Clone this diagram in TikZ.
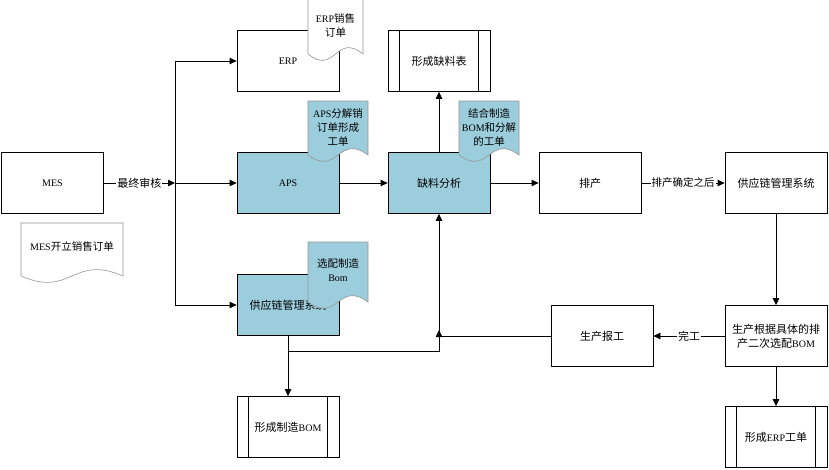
\documentclass[tikz,border=0pt]{standalone}
\usepackage{fontspec}
\setmainfont{Liberation Serif}
\newfontfamily\cjk{Noto Sans CJK SC}
\usetikzlibrary{arrows.meta}
\definecolor{boxblue}{RGB}{155,205,220}
\definecolor{docline}{RGB}{150,150,150}
\newcommand\zh[1]{{\cjk #1}}
\newcommand\lat[1]{{\fontsize{10}{14}\selectfont #1}}
% x0, y0, x1, yb, style
\newcommand\docshape[5]{%
  \path[#5] (#1,#2) -- (#3,#2) -- (#3,#4)
    .. controls ({(#1+#3)/2},{#4-22}) and ({(#1+#3)/2},{#4+22}) .. (#1,#4) -- cycle;}
\begin{document}
\begin{tikzpicture}[x=1pt,y=-1pt,
  box/.style={draw=black,line width=0.8pt,minimum width=102pt,minimum height=61pt,
    inner sep=0pt,align=center,font=\fontsize{11}{14}\selectfont},
  bluebox/.style={box,fill=boxblue},
  conn/.style={line width=0.8pt},
  arr/.style={conn,-{Triangle[length=7pt,width=6.5pt]}},
  lbl/.style={fill=white,inner sep=1pt,font=\fontsize{11}{13}\selectfont},
  doctext/.style={align=center,inner sep=0pt,font=\fontsize{10.5}{14}\selectfont},
  docwhite/.style={draw=docline,line width=0.6pt,fill=white},
  docblue/.style={draw=docline,line width=0.6pt,fill=boxblue},
]
\useasboundingbox (0,0) rectangle (829,469);
\fill[white] (0,0) rectangle (829,469);

% boxes
\node[box] (mes) at (52.5,183) {\lat{MES}};
\node[box] (erp) at (288,61) {\lat{ERP}};
\node[bluebox] (aps) at (288,183) {\lat{APS}};
\node[box] (qlb) at (439,61) {\zh{形成缺料表}};
\node[bluebox] (qlfx) at (439,183) {\zh{缺料分析}};
\node[box] (pc) at (590,183) {\zh{排产}};
\node[box] (scm) at (776,183) {\zh{供应链管理系统}};
\node[bluebox] (scm2) at (288,305) {\zh{供应链管理系统}};
\node[box] (zzbom) at (288,427) {\zh{形成制造}\lat{BOM}};
\node[box] (bg) at (602,336) {\zh{生产报工}};
\node[box] (sc) at (776,336) {\zh{生产根据具体的排}\\\zh{产二次选配}\lat{BOM}};
\node[box] (erpgd) at (776,437) {\zh{形成}\lat{ERP}\zh{工单}};

% predefined-process side bars
\foreach \n in {qlb,zzbom,erpgd}{
  \draw[conn] ([xshift=12pt]\n.north west) -- ([xshift=12pt]\n.south west);
  \draw[conn] ([xshift=-12pt]\n.north east) -- ([xshift=-12pt]\n.south east);
}

% connectors
\coordinate (j) at (175,183);
\coordinate (t1) at (175,61);
\coordinate (t3) at (175,305);
\draw[arr] (mes.east) -- node[lbl]{\zh{最终审核}} (j);
\draw[conn] (t1) -- (t3);
\draw[arr] (t1) -- (erp.west);
\draw[arr] (j) -- (aps.west);
\draw[arr] (t3) -- (scm2.west);
\draw[arr] (aps) -- (qlfx);
\draw[arr] (qlfx) -- (qlb);
\draw[arr] (qlfx) -- (pc);
\draw[arr] (pc) -- node[lbl,font=\fontsize{10.5}{13}\selectfont]{\zh{排产确定之后}} (scm);
\draw[arr] (scm) -- (sc);
\draw[arr] (sc) -- node[lbl]{\zh{完工}} (bg);
\draw[arr] (sc) -- (erpgd);
\coordinate (m1) at (439,351);
\coordinate (m2) at (439,330);
\coordinate (m3) at (439,336);
\draw[arr] (scm2.south) |- (m1) -- (m2);
\draw[arr] (bg.west) -- (m3) -- (qlfx.south);
\draw[arr] (scm2) -- (zzbom);

% documents
\docshape{308}{-2}{363}{54}{docwhite}
\node[doctext] (d1) at (335.5,25) {\lat{ERP}\zh{销售}\\\zh{订单}};
\docshape{308}{101}{368}{155}{docblue}
\node[doctext] (d2) at (338,127) {\lat{APS}\zh{分解销}\\\zh{订单形成}\\\zh{工单}};
\docshape{459}{101}{519}{155}{docblue}
\node[doctext] (d3) at (489,127) {\zh{结合制造}\\\lat{BOM}\zh{和分解}\\\zh{的工单}};
\docshape{308}{242}{368}{302}{docblue}
\node[doctext] (d4) at (338,270) {\zh{选配制造}\\\lat{Bom}};
\docshape{21}{223}{123}{276}{docwhite}
\node[doctext] (d5) at (72,246) {\lat{MES}\zh{开立销售订单}};
\end{tikzpicture}
\end{document}
